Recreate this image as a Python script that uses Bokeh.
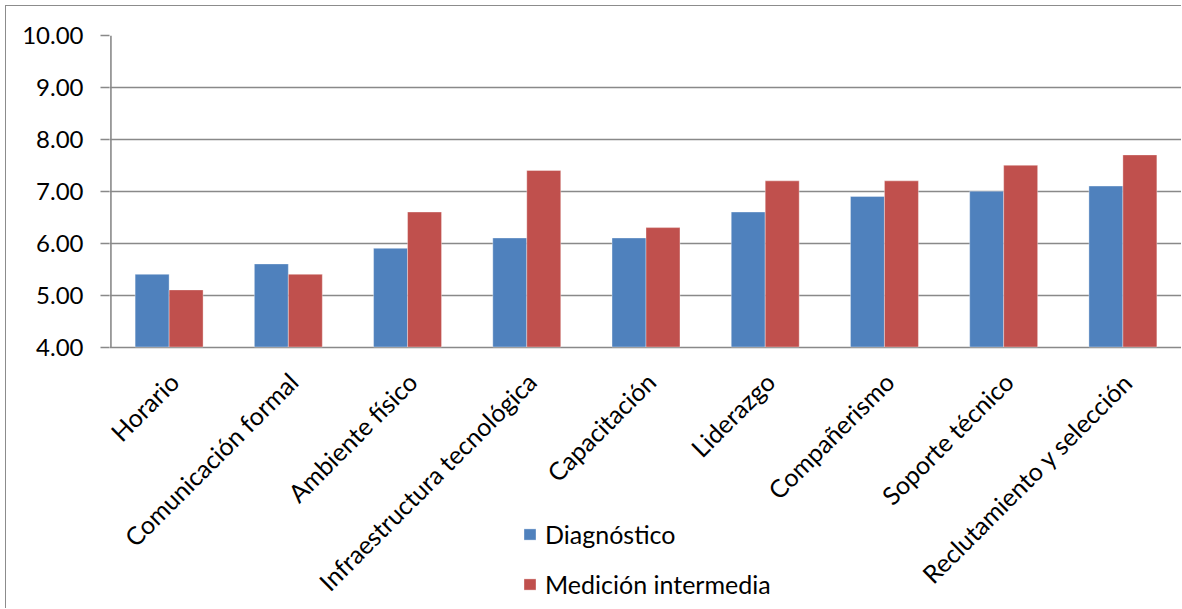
from math import pi

from bokeh.core.properties import value
from bokeh.embed import file_html
from bokeh.models import (FactorRange, FixedTicker, Legend, LegendItem,
                          NumeralTickFormatter, Range1d)
from bokeh.plotting import figure
from bokeh.resources import INLINE
from bokeh.transform import dodge

categories = [
    "Horario",
    "Comunicación formal",
    "Ambiente físico",
    "Infraestructura tecnológica",
    "Capacitación",
    "Liderazgo",
    "Compañerismo",
    "Soporte técnico",
    "Reclutamiento y selección",
]
diagnostico = [5.4, 5.6, 5.9, 6.1, 6.1, 6.6, 6.9, 7.0, 7.1]
medicion_intermedia = [5.1, 5.4, 6.6, 7.4, 6.3, 7.2, 7.2, 7.5, 7.7]
y_ticks = [4, 5, 6, 7, 8, 9, 10]

BLUE = "#4F81BD"
RED = "#C0504D"
GRID = "#898989"
FONT = "Lato"
TICK_FONT_SIZE = "24px"
LABEL_FONT_SIZE = "25px"

# The frame runs down to the bottom of the canvas so that the rotated
# category names and the legend can sit under the value axis.
Y_MIN, Y_MAX = 4, 10
Y_BOTTOM = -1.056

p = figure(
    width=1176,
    height=603,
    x_range=FactorRange(*categories, range_padding=0),
    y_range=Range1d(Y_BOTTOM, Y_MAX),
    x_axis_location=None,
    output_backend="svg",
    toolbar_location=None,
    min_border_left=103,
    min_border_top=29,
    min_border_right=0,
    min_border_bottom=0,
)
p.margin = (5, 0, 0, 5)
p.styles = {"border-left": "1.5px solid #8c8c8c", "border-top": "1.5px solid #8c8c8c"}
p.outline_line_color = None
p.background_fill_color = "white"
p.border_fill_color = "white"

src = dict(cat=categories, d=diagnostico, m=medicion_intermedia)
bw = 0.285

# horizontal gridlines (the one at 4.00 doubles as the category axis line)
p.xgrid.grid_line_color = None
p.ygrid.grid_line_color = GRID
p.ygrid.grid_line_width = 1.6
p.ygrid.ticker = FixedTicker(ticks=y_ticks)

# vertical value-axis line from 4.00 to 10.00
p.segment(x0=[0.012], y0=[Y_MIN], x1=[0.012], y1=[Y_MAX],
          line_color=GRID, line_width=1.6)

r1 = p.vbar(x=dodge("cat", -bw / 2, range=p.x_range), top="d", bottom=Y_MIN, width=bw,
            source=src, fill_color=BLUE, line_color="white", line_alpha=0.35)
r2 = p.vbar(x=dodge("cat", bw / 2, range=p.x_range), top="m", bottom=Y_MIN, width=bw,
            source=src, fill_color=RED, line_color="white", line_alpha=0.35)

# value axis: ticks and labels only
p.yaxis.ticker = FixedTicker(ticks=y_ticks)
p.yaxis.formatter = NumeralTickFormatter(format="0.00")
p.yaxis.axis_line_color = None
p.yaxis.major_tick_line_color = GRID
p.yaxis.major_tick_line_width = 1.6
p.yaxis.major_tick_out = 9
p.yaxis.major_tick_in = 0
p.yaxis.minor_tick_line_color = None
p.yaxis.major_label_standoff = 17
p.yaxis.major_label_text_font = FONT
p.yaxis.major_label_text_font_size = TICK_FONT_SIZE
p.yaxis.major_label_text_color = "black"

# rotated category names under the bars
p.text(x=dodge("cat", 0.04, range=p.x_range), y=3.42, text="cat", source=src,
       angle=pi / 4, text_align="right", text_baseline="middle",
       text_font=value(FONT), text_font_size=value(LABEL_FONT_SIZE), text_color="black")

legend = Legend(
    items=[LegendItem(label="Diagnóstico", renderers=[r1]),
           LegendItem(label="Medición intermedia", renderers=[r2])],
    location=(413, 10),
    orientation="vertical",
    border_line_color=None,
    background_fill_alpha=0,
    padding=0,
    margin=0,
    spacing=20,
    glyph_width=15,
    glyph_height=14,
    label_height=14,
    label_standoff=8,
    label_text_font=FONT,
    label_text_font_size=LABEL_FONT_SIZE,
    label_text_color="black",
)
p.add_layout(legend, "center")

open("out.html", "w").write(file_html(p, INLINE))
